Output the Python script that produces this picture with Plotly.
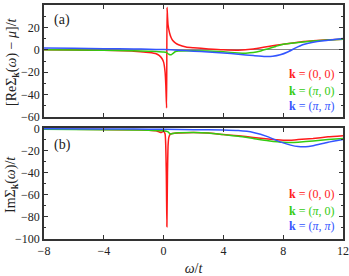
import plotly.graph_objects as go
from plotly.subplots import make_subplots

# ---------------- data ----------------
# Real part  [Re Sigma - mu]/t
w_re_red = [-8, -6, -4, -2, -1, -0.5, -0.3, -0.1, 0.0, 0.1, 0.15, 0.2, 0.23, 0.26, 0.3, 0.4, 0.5,
            0.6, 0.8, 1.0, 1.5, 2, 3, 4, 5, 6, 7, 8, 9, 10, 11, 12]
re_red = [0, -0.2, -0.5, -1.2, -2.5, -3.5, -5, -8, -11, -20, -32, -52, 38, 30, 22, 15, 11,
          8.5, 6, 4.5, 2.5, 1.8, 0.8, 0, -0.3, 0.8, 3, 5, 6.8, 8, 9, 9.5]

w_re_green = [-8, -4, -2, -1, -0.5, 0, 0.2, 0.35, 0.5, 0.6, 0.8, 1.0, 2, 3, 4, 5, 5.5, 6, 6.5,
              7, 7.5, 8, 9, 10, 11, 12]
re_green = [0, -0.3, -0.8, -1.2, -1.5, -2, -2.5, -4, -4.5, -3.5, -1.5, -1, -0.8, -1, -1.8, -2.8,
            -3, -2.5, -1, 1, 3, 5, 6.5, 7.8, 8.8, 9.5]

w_re_blue = [-8, -6, -4, -2, -1, 0, 1, 2, 3, 4, 5, 6, 6.8, 7.3, 7.8, 8.3, 8.8, 9.3, 10, 11, 12]
re_blue = [1.5, 1.3, 1.0, 0.7, 0.5, 0.2, -0.3, -1.2, -2, -2.8, -4, -5.2, -6, -5.8, -4.5, -2, 1.5,
           4.5, 6.8, 8.5, 10]

# Imaginary part  Im Sigma / t
w_im_red = [-8, -4, -2, -1, -0.5, -0.3, -0.15, 0.0, 0.1, 0.18, 0.22, 0.26, 0.3, 0.35, 0.45, 0.6,
            1, 2, 3, 4, 5, 6, 7, 8, 8.5, 9, 10, 11, 12]
im_red = [-0.5, -0.8, -1.2, -1.5, -2, -3, -3.5, -2.5, -5, -40, -89, -40, -15, -8, -5, -4.5,
          -4, -3.5, -4, -5.5, -6.5, -8, -9.5, -10.5, -10.5, -10, -9, -7.5, -6.5]

w_im_green = [-8, -4, -2, -1, 0, 0.3, 0.45, 0.6, 0.8, 1, 2, 3, 4, 5, 6, 7, 8, 8.5, 9, 10, 11, 12]
im_green = [-0.7, -1, -1.3, -1.5, -2, -3, -5, -4.5, -4, -3.8, -3.5, -4, -5.5, -7, -9, -11, -12.5,
            -12.6, -12.3, -11.2, -10, -9]

w_im_blue = [-8, -4, -2, 0, 2, 4, 5, 6, 7, 7.5, 8, 8.5, 9, 9.5, 10, 11, 12]
im_blue = [-0.3, -0.4, -0.5, -0.7, -1, -1.3, -1.8, -3.5, -7.5, -10.5, -13, -15, -16.3, -16.5,
           -15.5, -12.5, -10]

x_ticks = [-8, -4, 0, 4, 8, 12]
legend_labels = ["<b>k</b> = (0, 0)", "<b>k</b> = (<i>π</i>, 0)", "<b>k</b> = (<i>π</i>, <i>π</i>)"]

RED, GREEN, BLUE = "#ff1a1a", "#33cc11", "#3355ff"
FONT = "'Liberation Serif', 'Times New Roman', 'DejaVu Serif', serif"
AX = "#333333"

fig = make_subplots(rows=2, cols=1, vertical_spacing=0.047)

for w, v, c in [(w_re_red, re_red, RED), (w_re_green, re_green, GREEN), (w_re_blue, re_blue, BLUE)]:
    fig.add_trace(go.Scatter(x=w, y=v, mode="lines", line=dict(color=c, width=1.5, shape="spline", smoothing=0.5),
                             showlegend=False), row=1, col=1)
for w, v, c in [(w_im_red, im_red, RED), (w_im_green, im_green, GREEN), (w_im_blue, im_blue, BLUE)]:
    fig.add_trace(go.Scatter(x=w, y=v, mode="lines", line=dict(color=c, width=1.5, shape="spline", smoothing=0.5),
                             showlegend=False), row=2, col=1)

axis_common = dict(showline=True, linecolor=AX, linewidth=1.5, mirror="ticks", ticks="inside",
                   tickcolor=AX, ticklen=4, tickwidth=1, showgrid=False,
                   tickfont=dict(family=FONT, size=12, color="#222"))

fig.update_xaxes(range=[-8, 12], tickvals=x_ticks, zeroline=False, **axis_common)
fig.update_xaxes(showticklabels=False, row=1, col=1)
fig.update_xaxes(title=dict(text="<i>ω</i>/<i>t</i>", font=dict(family=FONT, size=14, color="#222"), standoff=6),
                 row=2, col=1)

fig.update_yaxes(range=[-60, 40], dtick=20, zeroline=True, zerolinecolor="#888888", zerolinewidth=1,
                 minor=dict(ticks="inside", dtick=10, ticklen=2.5, tickcolor=AX),
                 row=1, col=1, **axis_common)
fig.update_yaxes(range=[-100, 0.5], tickvals=[-100, -80, -60, -40, -20, 0], zeroline=False,
                 minor=dict(ticks="inside", dtick=10, ticklen=2.5, tickcolor=AX),
                 row=2, col=1, **axis_common)

fig.update_layout(width=349, height=276, margin=dict(l=44, r=6, t=5, b=37, autoexpand=False),
                  plot_bgcolor="white", paper_bgcolor="white",
                  font=dict(family=FONT, size=12, color="#222"))
fig.update_yaxes(domain=[0.5214, 1], row=1, col=1)
fig.update_yaxes(domain=[0, 0.4744], row=2, col=1)

def px_x(px):
    return (px - 44) / 299.0

def px_y(py):
    return (239 - py) / 234.0

ann = []
ann.append(dict(text="(a)", x=px_x(62), y=px_y(20)))
ann.append(dict(text="(b)", x=px_x(62), y=px_y(145)))
for a in ann:
    a.update(xref="paper", yref="paper", showarrow=False, xanchor="center", yanchor="middle",
             font=dict(family=FONT, size=14, color="#222"))
for i, (lab, c) in enumerate(zip(legend_labels, [RED, GREEN, BLUE])):
    for py in ([74, 91, 106][i], [194, 211, 226][i]):
        ann.append(dict(text=lab, x=px_x(336), y=px_y(py), xref="paper", yref="paper", xanchor="right",
                        yanchor="middle", showarrow=False, font=dict(family=FONT, size=12, color=c)))
ann.append(dict(text="[ReΣ<sub><b>k</b></sub>(<i>ω</i>) − <i>μ</i>]/<i>t</i>", x=px_x(12), y=px_y(62),
                xref="paper", yref="paper", textangle=-90, showarrow=False, xanchor="center", yanchor="middle",
                font=dict(family=FONT, size=14, color="#222")))
ann.append(dict(text="ImΣ<sub><b>k</b></sub>(<i>ω</i>)/<i>t</i>", x=px_x(12), y=px_y(185),
                xref="paper", yref="paper", textangle=-90, showarrow=False, xanchor="center", yanchor="middle",
                font=dict(family=FONT, size=14, color="#222")))
fig.update_layout(annotations=ann)

fig.write_html("out.html", config={"displayModeBar": False})

# remove default page margin so the 349x276 figure fills the window exactly
with open("out.html", "r", encoding="utf-8") as f:
    html = f.read()
html = html.replace("<body>", '<body style="margin:0;padding:0;overflow:hidden">', 1)
html = html.replace("<head>", '<head><style>html,body{margin:0;padding:0;overflow:hidden}</style>', 1)
with open("out.html", "w", encoding="utf-8") as f:
    f.write(html)
